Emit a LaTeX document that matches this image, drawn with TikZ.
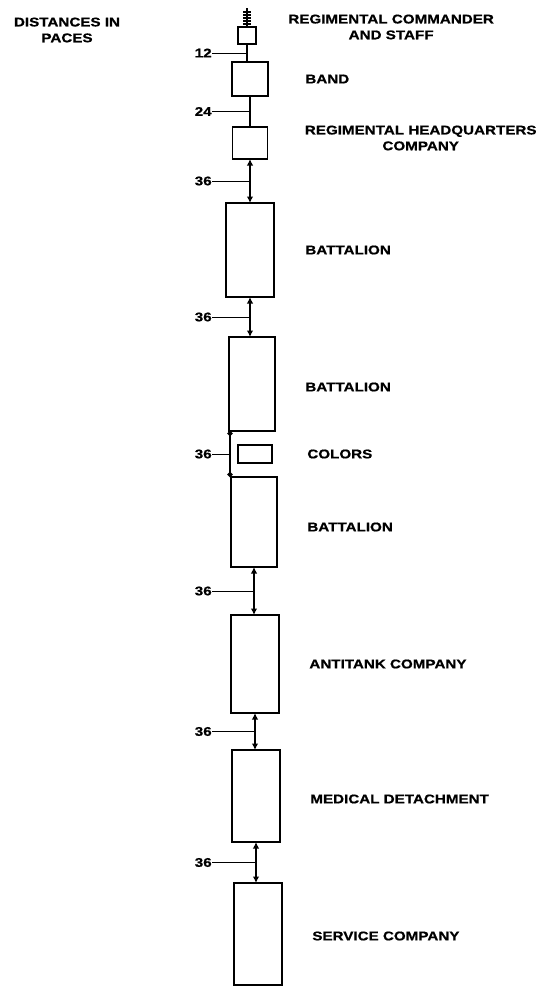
\documentclass[tikz,border=0pt]{standalone}
\usepackage{fontspec}
\setmainfont{Liberation Sans}[FakeStretch=1.2, BoldFeatures={FakeBold=0.8}]
\usepackage{tikz}
\usetikzlibrary{arrows.meta, positioning, calc}

\begin{document}
\begin{tikzpicture}[
    node distance=0.8cm and 0.7cm,
    font=\fontsize{7.2}{9}\selectfont\bfseries,
    unit/.style={draw, line width=1pt, minimum width=0.96cm, minimum height=1.88cm, inner sep=0pt, outer sep=0pt},
    lbl/.style={align=left, inner sep=0pt},
    num/.style={anchor=east, inner sep=0pt},
    conn/.style={{Latex[length=1.3mm, width=1.3mm]}-{Latex[length=1.3mm, width=1.3mm]}, line width=0.8pt},
    leader/.style={line width=0.5pt}
]
    \useasboundingbox (0,0) rectangle (11.08,-19.74);

    % Column of units
    \node[unit, minimum width=0.36cm, minimum height=0.34cm] (cmd) at (4.94,-0.71) {};
    \node[unit, minimum width=0.72cm, minimum height=0.68cm, below=0.36cm of cmd, xshift=0.06cm] (band) {};
    \node[unit, minimum width=0.70cm, minimum height=0.64cm, below=0.62cm of band] (rhq) {};
    \node[unit, below=0.88cm of rhq] (bn1) {};
    \node[unit, minimum width=0.92cm, below=0.8cm of bn1, xshift=0.04cm] (bn2) {};
    \node[unit, line width=0.8pt, minimum width=0.68cm, minimum height=0.36cm, below=0.28cm of bn2, xshift=0.06cm] (colors) {};
    \node[unit, minimum width=0.92cm, minimum height=1.80cm, below=0.92cm of bn2, xshift=0.04cm] (bn3) {};
    \node[unit, minimum height=1.96cm, below=0.96cm of bn3, xshift=0.02cm] (at) {};
    \node[unit, minimum height=1.84cm, below=0.74cm of at, xshift=0.02cm] (med) {};
    \node[unit, minimum height=2.04cm, below=0.82cm of med, xshift=0.04cm] (svc) {};

    % Pennant
    \draw[line width=0.9pt] (cmd.north) -- ++(0,0.38);
    \foreach \k in {0.06,0.12,0.18,0.24,0.30}
        \draw[line width=0.7pt] ($(cmd.north)+(-0.08,\k)$) -- ++(0.16,0);

    % Labels
    \node[align=center, inner sep=0pt, right=0.64cm of cmd, yshift=0.17cm] (lcmd) {REGIMENTAL COMMANDER\\AND STAFF};
    \node[lbl, right=0.74cm of band] (lband) {BAND};
    \node[align=center, inner sep=0pt, right=0.74cm of rhq, yshift=0.1cm] (lrhq) {REGIMENTAL HEADQUARTERS\\COMPANY};
    \node[lbl, right=0.62cm of bn1] (lbn1) {BATTALION};
    \node[lbl, right=0.6cm of bn2, yshift=-0.06cm] (lbn2) {BATTALION};
    \node[lbl, right=0.7cm of colors] (lcolors) {COLORS};
    \node[lbl, right=0.6cm of bn3, yshift=-0.1cm] (lbn3) {BATTALION};
    \node[lbl, right=0.6cm of at] (lat) {ANTITANK COMPANY};
    \node[lbl, right=0.6cm of med, yshift=-0.06cm] (lmed) {MEDICAL DETACHMENT};
    \node[lbl, right=0.6cm of svc, yshift=-0.04cm] (lsvc) {SERVICE COMPANY};
    \node[align=center, inner sep=0pt] (ldist) at (1.34,-0.6) {DISTANCES IN\\PACES};

    % Connectors
    \draw[line width=0.8pt] (cmd.south) -- (cmd.south |- band.north);
    \draw[line width=0.8pt] (band.south) -- (rhq.north);
    \draw[conn] (rhq.south) -- (bn1.north);
    \draw[conn] (bn1.south) -- (bn1.south |- bn2.north);
    \draw[{Circle[length=1mm]}-{Circle[length=1mm]}, line width=0.8pt] ([xshift=0.02cm]bn2.south west) -- ([xshift=0.02cm]bn2.south west |- bn3.north);
    \draw[conn] (bn3.south) -- (bn3.south |- at.north);
    \draw[conn] (at.south) -- (at.south |- med.north);
    \draw[conn] (med.south) -- (med.south |- svc.north);

    % Distances
    \coordinate (m1) at ($(cmd.south)!0.5!(cmd.south |- band.north)$);
    \coordinate (m2) at ($(band.south)!0.5!(rhq.north)$);
    \coordinate (m3) at ($(rhq.south)!0.5!(bn1.north)$);
    \coordinate (m4) at ($(bn1.south)!0.5!(bn1.south |- bn2.north)$);
    \coordinate (m5) at ($([xshift=0.02cm]bn2.south west)!0.5!([xshift=0.02cm]bn2.south west |- bn3.north)$);
    \coordinate (m6) at ($(bn3.south)!0.5!(bn3.south |- at.north)$);
    \coordinate (m7) at ($(at.south)!0.5!(at.south |- med.north)$);
    \coordinate (m8) at ($(med.south)!0.5!(med.south |- svc.north)$);
    \foreach \m/\d in {m1/12, m2/24, m3/36, m4/36, m5/36, m6/36, m7/36, m8/36} {
        \node[num] (d\m) at (4.24,0 |- \m) {\d};
        \draw[leader] (d\m) -- (\m);
    }
\end{tikzpicture}
\end{document}
